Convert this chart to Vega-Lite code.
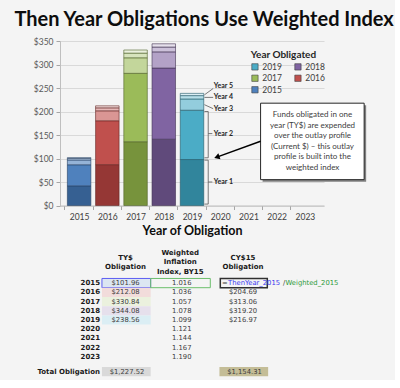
{
  "$schema": "https://vega.github.io/schema/vega-lite/v6.json",
  "background": "#f4f4f4",
  "padding": {"left": 13, "top": 10, "right": 0, "bottom": 0},
  "title": {"text": "Then Year Obligations Use Weighted Index", "font": "Lato", "fontSize": 20, "fontWeight": "bold", "color": "#0d0d0d", "anchor": "middle", "offset": 7, "dx": 6},
  "spacing": 12,
  "config": {"view": {"stroke": null}, "axis": {"labelFont": "Lato", "titleFont": "Lato"}, "legend": {"labelFont": "Lato", "titleFont": "Lato"}},
  "datasets": {
    "bars": [
      {"year": 2015, "seg": "Year 1", "key": "2015 Year 1", "value": 41.80},
      {"year": 2015, "seg": "Year 2", "key": "2015 Year 2", "value": 44.86},
      {"year": 2015, "seg": "Year 3", "key": "2015 Year 3", "value": 10.20},
      {"year": 2015, "seg": "Year 4", "key": "2015 Year 4", "value": 3.06},
      {"year": 2015, "seg": "Year 5", "key": "2015 Year 5", "value": 2.04},
      {"year": 2016, "seg": "Year 1", "key": "2016 Year 1", "value": 86.95},
      {"year": 2016, "seg": "Year 2", "key": "2016 Year 2", "value": 93.32},
      {"year": 2016, "seg": "Year 3", "key": "2016 Year 3", "value": 21.21},
      {"year": 2016, "seg": "Year 4", "key": "2016 Year 4", "value": 6.36},
      {"year": 2016, "seg": "Year 5", "key": "2016 Year 5", "value": 4.24},
      {"year": 2017, "seg": "Year 1", "key": "2017 Year 1", "value": 135.64},
      {"year": 2017, "seg": "Year 2", "key": "2017 Year 2", "value": 145.57},
      {"year": 2017, "seg": "Year 3", "key": "2017 Year 3", "value": 33.08},
      {"year": 2017, "seg": "Year 4", "key": "2017 Year 4", "value": 9.93},
      {"year": 2017, "seg": "Year 5", "key": "2017 Year 5", "value": 6.62},
      {"year": 2018, "seg": "Year 1", "key": "2018 Year 1", "value": 141.07},
      {"year": 2018, "seg": "Year 2", "key": "2018 Year 2", "value": 151.40},
      {"year": 2018, "seg": "Year 3", "key": "2018 Year 3", "value": 34.41},
      {"year": 2018, "seg": "Year 4", "key": "2018 Year 4", "value": 10.32},
      {"year": 2018, "seg": "Year 5", "key": "2018 Year 5", "value": 6.88},
      {"year": 2019, "seg": "Year 1", "key": "2019 Year 1", "value": 97.81},
      {"year": 2019, "seg": "Year 2", "key": "2019 Year 2", "value": 104.97},
      {"year": 2019, "seg": "Year 3", "key": "2019 Year 3", "value": 23.86},
      {"year": 2019, "seg": "Year 4", "key": "2019 Year 4", "value": 7.16},
      {"year": 2019, "seg": "Year 5", "key": "2019 Year 5", "value": 4.76}
    ],
    "brackets": [
      {"year": 2019.44, "value": 235.4, "year2": 2019.75, "value2": 249},
      {"year": 2019.44, "value": 230, "year2": 2019.75, "value2": 230},
      {"year": 2019.44, "value": 214.5, "year2": 2019.75, "value2": 206},
      {"year": 2019.575, "value": 200, "year2": 2019.575, "value2": 101.5},
      {"year": 2019.44, "value": 200, "year2": 2019.575, "value2": 200},
      {"year": 2019.44, "value": 101.5, "year2": 2019.575, "value2": 101.5},
      {"year": 2019.575, "value": 153, "year2": 2019.72, "value2": 153},
      {"year": 2019.575, "value": 96.5, "year2": 2019.575, "value2": 3},
      {"year": 2019.44, "value": 96.5, "year2": 2019.575, "value2": 96.5},
      {"year": 2019.44, "value": 3, "year2": 2019.575, "value2": 3},
      {"year": 2019.575, "value": 50, "year2": 2019.72, "value2": 50}
    ],
    "yearLabels": [
      {"label": "Year 5", "year": 2019.77, "value": 254},
      {"label": "Year 4", "year": 2019.77, "value": 231},
      {"label": "Year 3", "year": 2019.77, "value": 205.6},
      {"label": "Year 2", "year": 2019.77, "value": 153},
      {"label": "Year 1", "year": 2019.77, "value": 50}
    ],
    "calloutBox": [
      {"year": 2021.43, "year2": 2025.1, "value": 217.7, "value2": 55}
    ],
    "calloutText": [
      {"year": 2023.27, "value": 192.5,
       "note": "Funds obligated in one\nyear (TY$) are expended\nover the outlay profile\n(Current $) – this outlay\nprofile is built into the\nweighted index"}
    ],
    "arrow": [
      {"year": 2021.43, "value": 136.8, "year2": 2019.88, "value2": 103}
    ],
    "arrowHead": [
      {"year": 2019.88, "value": 103}
    ],
    "table": [
      {"year": "2015", "ty": 101.96, "idx": 1.016},
      {"year": "2016", "ty": 212.08, "idx": 1.036, "cy": 204.69},
      {"year": "2017", "ty": 330.84, "idx": 1.057, "cy": 313.06},
      {"year": "2018", "ty": 344.08, "idx": 1.078, "cy": 319.20},
      {"year": "2019", "ty": 238.56, "idx": 1.099, "cy": 216.97},
      {"year": "2020", "idx": 1.121},
      {"year": "2021", "idx": 1.144},
      {"year": "2022", "idx": 1.167},
      {"year": "2023", "idx": 1.190}
    ],
    "totals": [
      {"col": "ty", "total": 1227.52},
      {"col": "cy", "total": 1154.31}
    ]
  },
  "vconcat": [
    {
      "width": 264,
      "height": 164.5,
      "encoding": {
        "x": {"field": "year", "type": "quantitative",
          "scale": {"domain": [2014.5, 2023.5], "nice": false, "zero": false},
          "axis": {"title": "Year of Obligation", "grid": false,
            "values": [2015, 2016, 2017, 2018, 2019, 2020, 2021, 2022, 2023], "format": "d",
            "tickOffset": -14.667, "labelOffset": 14.667,
            "labelAngle": 0, "labelFontSize": 8.5, "labelColor": "#404040", "labelOverlap": false, "labelFlush": false,
            "tickColor": "#a6a6a6", "tickSize": 4, "domainColor": "#bfbfbf",
            "titleFontSize": 12.5, "titleFontWeight": "bold", "titleColor": "#0d0d0d", "titlePadding": 3, "labelPadding": 3}},
        "y": {"field": "value", "type": "quantitative",
          "scale": {"domain": [0, 350], "nice": false},
          "axis": {"title": null, "values": [0, 50, 100, 150, 200, 250, 300, 350], "format": "$,.0f", "labelOverlap": false, "labelFontSize": 8.5, "labelColor": "#595959", "tickColor": "#a6a6a6", "tickSize": 4, "domainColor": "#bfbfbf", "gridColor": "#d9d9d9", "labelPadding": 3, "minExtent": 30}}
      },
      "layer": [
        {
          "data": {"name": "bars"},
          "mark": {"type": "bar", "orient": "vertical", "width": 23.5, "strokeWidth": 0.6},
          "encoding": {
            "y": {"field": "value", "type": "quantitative", "stack": "zero",
              "scale": {"domain": [0, 350], "nice": false},
              "axis": {"title": null, "values": [0, 50, 100, 150, 200, 250, 300, 350], "format": "$,.0f", "labelOverlap": false, "labelFontSize": 8.5, "labelColor": "#595959", "tickColor": "#a6a6a6", "tickSize": 4, "domainColor": "#bfbfbf", "gridColor": "#d9d9d9", "labelPadding": 3, "minExtent": 30}},
            "fill": {"field": "key", "type": "nominal",
              "scale": {
                "domain": ["2015 Year 1", "2015 Year 2", "2015 Year 3", "2015 Year 4", "2015 Year 5",
                           "2016 Year 1", "2016 Year 2", "2016 Year 3", "2016 Year 4", "2016 Year 5",
                           "2017 Year 1", "2017 Year 2", "2017 Year 3", "2017 Year 4", "2017 Year 5",
                           "2018 Year 1", "2018 Year 2", "2018 Year 3", "2018 Year 4", "2018 Year 5",
                           "2019 Year 1", "2019 Year 2", "2019 Year 3", "2019 Year 4", "2019 Year 5"],
                "range": ["#366092", "#4f81bd", "#95b3d7", "#b9cde5", "#dce6f2",
                          "#953735", "#c0504d", "#da9694", "#e6b9b8", "#f2dcdb",
                          "#77933c", "#9bbb59", "#c3d69b", "#d7e4bd", "#ebf1de",
                          "#604a7b", "#8064a2", "#b3a2c7", "#ccc1da", "#e6e0ec",
                          "#31859c", "#4bacc6", "#93cddd", "#b7dee8", "#dbeef4"]},
              "legend": {"title": "Year Obligated", "values": ["2019 Year 2", "2018 Year 2", "2017 Year 2", "2016 Year 2", "2015 Year 2"],
                "labelExpr": "slice(datum.label, 0, 4)", "orient": "none", "legendX": 190.7, "legendY": 8.5, "columns": 2, "direction": "horizontal",
                "symbolType": "square", "symbolSize": 40, "symbolStrokeWidth": 0.6, "symbolStrokeColor": "#404040",
                "titleFontSize": 10, "titleFontWeight": "bold", "titleColor": "#262626", "labelFontSize": 8.5, "labelColor": "#404040",
                "rowPadding": 1.5, "columnPadding": 10, "titlePadding": 3, "labelOffset": 3, "padding": 0}},
            "stroke": {"field": "year", "type": "nominal",
              "scale": {"domain": [2015, 2016, 2017, 2018, 2019], "range": ["#254061", "#632523", "#4f6228", "#3f3151", "#215968"]},
              "legend": null},
            "order": {"field": "seg", "type": "ordinal"}
          }
        },
        {
          "data": {"name": "brackets"},
          "mark": {"type": "rule", "color": "#595959", "strokeWidth": 0.8},
          "encoding": {"x2": {"field": "year2"}, "y2": {"field": "value2"}}
        },
        {
          "data": {"name": "yearLabels"},
          "mark": {"type": "text", "align": "left", "font": "Lato", "fontSize": 7, "fontWeight": "bold", "color": "#262626"},
          "encoding": {"text": {"field": "label"}}
        },
        {
          "data": {"name": "calloutBox"},
          "mark": {"type": "rect", "color": "#808080", "xOffset": 2, "x2Offset": 2, "yOffset": 2, "y2Offset": 2},
          "encoding": {"x2": {"field": "year2"}, "y2": {"field": "value2"}}
        },
        {
          "data": {"name": "calloutBox"},
          "mark": {"type": "rect", "fill": "#ffffff", "stroke": "#262626", "strokeWidth": 1},
          "encoding": {"x2": {"field": "year2"}, "y2": {"field": "value2"}}
        },
        {
          "data": {"name": "calloutText"},
          "mark": {"type": "text", "lineBreak": "\n", "font": "Lato", "fontSize": 8, "lineHeight": 10.6, "color": "#404040", "align": "center", "baseline": "middle"},
          "encoding": {"text": {"field": "note"}}
        },
        {
          "data": {"name": "arrow"},
          "mark": {"type": "rule", "color": "#000000", "strokeWidth": 1.5},
          "encoding": {"x2": {"field": "year2"}, "y2": {"field": "value2"}}
        },
        {
          "data": {"name": "arrowHead"},
          "mark": {"type": "point", "shape": "triangle-left", "angle": -19.4, "size": 40, "filled": true, "color": "#000000", "opacity": 1}
        }
      ]
    },
    {
      "width": 248.5,
      "height": 120,
      "data": {"name": "table"},
      "layer": [
        {
          "transform": [{"filter": "isValid(datum.ty)"}],
          "mark": {"type": "rect", "width": 48.7, "xOffset": 0.8, "strokeWidth": 1},
          "encoding": {
            "x": {"datum": "ty", "type": "nominal", "scale": {"domain": ["ty", "idx", "cy"], "paddingInner": 0, "paddingOuter": 0.615}, "axis": null},
            "y": {"field": "year", "type": "nominal", "scale": {"domain": ["hdr", "s1", "2015", "2016", "2017", "2018", "2019", "2020", "2021", "2022", "2023", "s2", "tot"], "paddingInner": 0, "paddingOuter": 0}, "axis": null},
            "fill": {"field": "year", "type": "nominal", "scale": {"domain": ["2015", "2016", "2017", "2018", "2019"], "range": ["#dce6f2", "#f2dcdb", "#ebf1de", "#e6e0ec", "#dbeef4"]}, "legend": null},
            "stroke": {"condition": {"test": "datum.year === '2015'", "value": "#5c5cf2"}, "value": null}
          }
        },
        {
          "transform": [{"filter": "datum.year === '2015'"}],
          "mark": {"type": "rect", "width": 59.6, "xOffset": -3.75, "fillOpacity": 0, "stroke": "#6cbf6c", "strokeWidth": 1},
          "encoding": {
            "x": {"datum": "idx", "type": "nominal"},
            "y": {"field": "year", "type": "nominal"}
          }
        },
        {
          "transform": [{"filter": "datum.year === '2015'"}],
          "mark": {"type": "rect", "width": 47, "xOffset": 0.8, "fillOpacity": 0, "stroke": "#303030", "strokeWidth": 1.5},
          "encoding": {
            "x": {"datum": "cy", "type": "nominal"},
            "y": {"field": "year", "type": "nominal"}
          }
        },
        {
          "data": {"name": "totals"},
          "mark": {"type": "rect", "width": 48.7, "xOffset": 0.8, "yOffset": -3.7, "y2Offset": -3.7},
          "encoding": {
            "x": {"field": "col", "type": "nominal"},
            "y": {"datum": "tot", "type": "nominal"},
            "color": {"field": "col", "type": "nominal", "scale": {"domain": ["ty", "cy"], "range": ["#d9d9d9", "#c4bd97"]}, "legend": null}
          }
        },
        {
          "transform": [{"filter": "isValid(datum.ty)"}],
          "mark": {"type": "text", "font": "DejaVu Sans", "fontSize": 6.8, "color": "#404040"},
          "encoding": {
            "x": {"datum": "ty", "type": "nominal"},
            "y": {"field": "year", "type": "nominal"},
            "text": {"field": "ty", "type": "quantitative", "format": "$,.2f"}
          }
        },
        {
          "mark": {"type": "text", "font": "DejaVu Sans", "fontSize": 6.8, "color": "#404040", "dx": -2.5},
          "encoding": {
            "x": {"datum": "idx", "type": "nominal"},
            "y": {"field": "year", "type": "nominal"},
            "text": {"field": "idx", "type": "quantitative", "format": ".3f"}
          }
        },
        {
          "transform": [{"filter": "isValid(datum.cy)"}],
          "mark": {"type": "text", "font": "DejaVu Sans", "fontSize": 6.8, "color": "#404040"},
          "encoding": {
            "x": {"datum": "cy", "type": "nominal"},
            "y": {"field": "year", "type": "nominal"},
            "text": {"field": "cy", "type": "quantitative", "format": "$,.2f"}
          }
        },
        {
          "mark": {"type": "text", "font": "DejaVu Sans", "fontSize": 7, "fontWeight": "bold", "color": "#1a1a1a", "align": "right", "dx": -25.5},
          "encoding": {
            "x": {"datum": "ty", "type": "nominal"},
            "y": {"field": "year", "type": "nominal"},
            "text": {"field": "year"}
          }
        },
        {
          "data": {"values": [{"col": "ty", "h": "TY$\nObligation"}, {"col": "cy", "h": "CY$15\nObligation"}]},
          "mark": {"type": "text", "font": "DejaVu Sans", "fontSize": 7, "fontWeight": "bold", "color": "#1a1a1a", "lineBreak": "\n", "lineHeight": 9.3, "dy": -6.8},
          "encoding": {
            "x": {"field": "col", "type": "nominal"},
            "y": {"datum": "hdr", "type": "nominal"},
            "text": {"field": "h"}
          }
        },
        {
          "data": {"values": [{"col": "idx", "h": "Weighted\nInflation\nIndex, BY15"}]},
          "mark": {"type": "text", "font": "DejaVu Sans", "fontSize": 7, "fontWeight": "bold", "color": "#1a1a1a", "lineBreak": "\n", "lineHeight": 9.3, "dy": -11.5, "dx": -4},
          "encoding": {
            "x": {"field": "col", "type": "nominal"},
            "y": {"datum": "hdr", "type": "nominal"},
            "text": {"field": "h"}
          }
        },
        {
          "data": {"values": [{"t": "Total Obligation"}]},
          "mark": {"type": "text", "font": "DejaVu Sans", "fontSize": 7, "fontWeight": "bold", "color": "#1a1a1a", "align": "right", "dx": -25.5, "dy": -3.7},
          "encoding": {
            "x": {"datum": "ty", "type": "nominal"},
            "y": {"datum": "tot", "type": "nominal"},
            "text": {"field": "t"}
          }
        },
        {
          "data": {"name": "totals"},
          "mark": {"type": "text", "font": "DejaVu Sans", "fontSize": 6.8, "color": "#404040", "dy": -3.7, "dx": 1.5},
          "encoding": {
            "x": {"field": "col", "type": "nominal"},
            "y": {"datum": "tot", "type": "nominal"},
            "text": {"field": "total", "type": "quantitative", "format": "$,.2f"}
          }
        },
        {
          "transform": [{"filter": "datum.year === '2015'"}],
          "mark": {"type": "text", "text": "=", "font": "DejaVu Sans", "fontSize": 6.8, "color": "#404040", "align": "left", "dx": -21},
          "encoding": {"x": {"datum": "cy", "type": "nominal"}, "y": {"field": "year", "type": "nominal"}}
        },
        {
          "transform": [{"filter": "datum.year === '2015'"}],
          "mark": {"type": "text", "text": "ThenYear_2015", "font": "DejaVu Sans", "fontSize": 6.8, "color": "#3a3af0", "align": "left", "dx": -15},
          "encoding": {"x": {"datum": "cy", "type": "nominal"}, "y": {"field": "year", "type": "nominal"}}
        },
        {
          "transform": [{"filter": "datum.year === '2015'"}],
          "mark": {"type": "text", "text": "/", "font": "DejaVu Sans", "fontSize": 6.8, "color": "#404040", "align": "left", "dx": 40},
          "encoding": {"x": {"datum": "cy", "type": "nominal"}, "y": {"field": "year", "type": "nominal"}}
        },
        {
          "transform": [{"filter": "datum.year === '2015'"}],
          "mark": {"type": "text", "text": "Weighted_2015", "font": "DejaVu Sans", "fontSize": 6.8, "color": "#2e9a3a", "align": "left", "dx": 42.5},
          "encoding": {"x": {"datum": "cy", "type": "nominal"}, "y": {"field": "year", "type": "nominal"}}
        }
      ],
      "resolve": {"scale": {"fill": "independent"}}
    }
  ]
}
